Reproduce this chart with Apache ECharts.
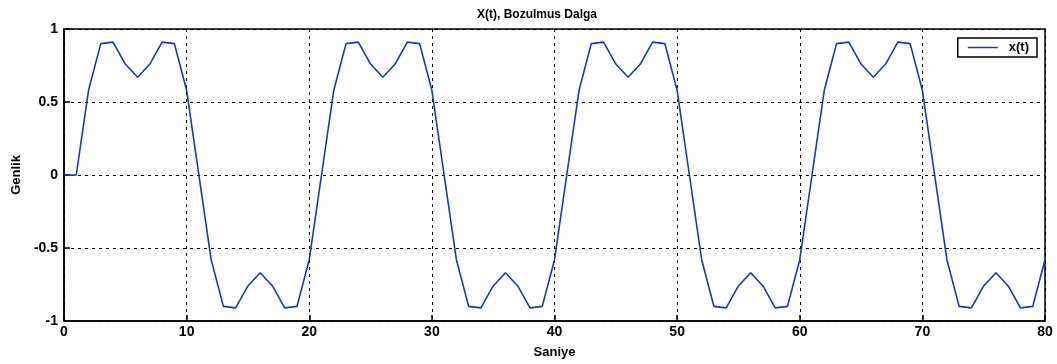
<!DOCTYPE html>
<html><head><meta charset="utf-8">
<script src="https://cdn.jsdelivr.net/npm/echarts@6/dist/echarts.min.js"></script>
<style>html,body{margin:0;padding:0;background:#fff}#c{width:1057px;height:364px}</style>
</head><body><div id="c"></div>
<script>
const titleText = 'X(t), Bozulmus Dalga';
const xName = 'Saniye';
const yName = 'Genlik';
const seriesName = 'x(t)';
const tValues = [0,1,2,3,4,5,6,7,8,9,10,11,12,13,14,15,16,17,18,19,20,21,22,23,24,25,26,27,28,29,30,31,32,33,34,35,36,37,38,39,40,41,42,43,44,45,46,47,48,49,50,51,52,53,54,55,56,57,58,59,60,61,62,63,64,65,66,67,68,69,70,71,72,73,74,75,76,77,78,79,80];
const xValues = [
 0, 0, 0.58, 0.9, 0.91, 0.76, 0.67, 0.76, 0.91, 0.9, 0.58,
 0, -0.58, -0.9, -0.91, -0.76, -0.67, -0.76, -0.91, -0.9, -0.58,
 0, 0.58, 0.9, 0.91, 0.76, 0.67, 0.76, 0.91, 0.9, 0.58,
 0, -0.58, -0.9, -0.91, -0.76, -0.67, -0.76, -0.91, -0.9, -0.58,
 0, 0.58, 0.9, 0.91, 0.76, 0.67, 0.76, 0.91, 0.9, 0.58,
 0, -0.58, -0.9, -0.91, -0.76, -0.67, -0.76, -0.91, -0.9, -0.58,
 0, 0.58, 0.9, 0.91, 0.76, 0.67, 0.76, 0.91, 0.9, 0.58,
 0, -0.58, -0.9, -0.91, -0.76, -0.67, -0.76, -0.91, -0.9, -0.58
];
const font = 'Liberation Sans, Arial, sans-serif';
const lineColor = '#1a3aa8';
const chart = echarts.init(document.getElementById('c'));
const gridLine = {show:true, lineStyle:{color:'#000', type:[3,4], width:1}};
chart.setOption({
  animation:false,
  backgroundColor:'#fff',
  title:{text:titleText, left:472, top:4, textStyle:{fontFamily:font, fontSize:12, fontWeight:'bold', color:'#000'}},
  legend:{data:[{name:seriesName, icon:'rect'}], right:20, top:38, borderColor:'#000', borderWidth:1.5, backgroundColor:'#fff', borderRadius:0,
    padding:[3,8,3,10], itemWidth:30, itemHeight:1.5,
    textStyle:{fontFamily:font, fontSize:13, fontWeight:'bold', color:'#000', padding:[0,0,0,6]}},
  grid:{left:64, right:12, top:29, bottom:42, show:true, borderColor:'#000', borderWidth:1.5, backgroundColor:'transparent'},
  xAxis:{type:'value', min:0, max:80, interval:10, name:xName, nameLocation:'middle', nameGap:25,
    nameTextStyle:{fontFamily:font, fontSize:13, fontWeight:'bold', color:'#000'},
    axisLine:{show:true, onZero:false, lineStyle:{color:'#000', width:1.5}},
    axisTick:{show:true, inside:true, length:6, lineStyle:{color:'#000', width:1.5}},
    axisLabel:{fontFamily:font, fontSize:14, fontWeight:'bold', color:'#000', margin:4},
    splitLine:gridLine},
  yAxis:{type:'value', min:-1, max:1, interval:0.5, name:yName, nameLocation:'middle', nameGap:34,
    nameTextStyle:{fontFamily:font, fontSize:13, fontWeight:'bold', color:'#000'},
    axisLine:{show:true, onZero:false, lineStyle:{color:'#000', width:1.5}},
    axisTick:{show:true, inside:true, length:6, lineStyle:{color:'#000', width:1.5}},
    axisLabel:{fontFamily:font, fontSize:14, fontWeight:'bold', color:'#000', margin:6},
    splitLine:gridLine},
  series:[{name:seriesName, type:'line', data:tValues.map((t,i)=>[t,xValues[i]]), showSymbol:false, symbol:'none',
    lineStyle:{color:lineColor, width:1.6}, itemStyle:{color:lineColor}}]
});
</script></body></html>
